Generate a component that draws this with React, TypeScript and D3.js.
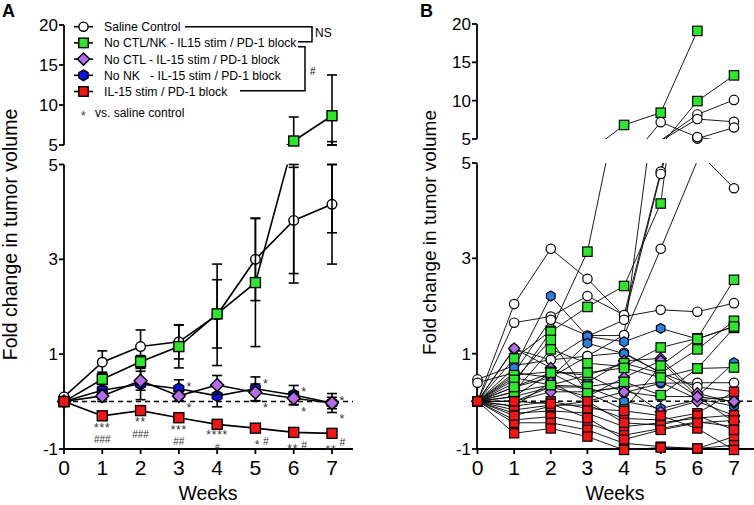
import React from "react";
import * as d3 from "d3";

const FONT = "Arial, 'Liberation Sans', Helvetica, sans-serif";

// ---------- shared ----------
const weeks = [0, 1, 2, 3, 4, 5, 6, 7];
const lowerTicks = [-1, 1, 3, 5];
const upperTicks = [5, 10, 15, 20];
const yTitle = "Fold change in tumor volume";
const xTitle = "Weeks";

// ---------- panel A (mean ± error) ----------
const salineMean = [0.1, 0.83, 1.16, 1.26, 1.83, 3.0, 3.82, 4.16];
const salineErr = [0, 0.24, 0.35, 0.36, 1.07, 0.87, 1.12, 1.26];
const noCtlNkMean = [0, 0.47, 0.84, 1.16, 1.85, 2.51, 5.5, 8.66];
const noCtlNkErr = [0, 0.15, 0.13, 0.45, 0.72, 1.35, 3.0, 5.1];
const noCtlMean = [0, 0.12, 0.44, 0.12, 0.35, 0.19, 0.07, -0.03];
const noCtlErr = [0, 0.12, 0.2, 0.1, 0.2, 0.18, 0.14, 0.12];
const noNkMean = [0, 0.24, 0.37, 0.27, 0.12, 0.27, 0.14, -0.03];
const noNkErr = [0, 0.2, 0.33, 0.19, 0.23, 0.25, 0.2, 0.2];
const il15Mean = [0, -0.3, -0.19, -0.34, -0.48, -0.56, -0.65, -0.67];
const il15Err = [0, 0.03, 0.03, 0.03, 0.06, 0.07, 0.05, 0.07];

const legendLabels = [
  "Saline Control",
  "No CTL/NK - IL15 stim / PD-1 block",
  "No CTL - IL-15 stim / PD-1 block",
  "No NK   - IL-15 stim / PD-1 block",
  "IL-15 stim / PD-1 block",
];
const il15StarsVsSaline = ["***", "**", "***", "****", "*", "**", "**"]; // weeks 1..7
const il15HashVsNoCtlNk = ["###", "###", "##", "#", "#", "#", "#"]; // weeks 1..7
const sideStarWeeks = [3, 5, 6, 7];

// ---------- panel B (individual mice) ----------
const salineMice: (number | null)[][] = [
  [0, 2.04, 3.2, 2.57, 1.78, 1.92, 1.88, 2.06],
  [0, 1.65, 1.78, 2.21, 1.81, 4.82, 8.2, 10.1],
  [0.46, 0.75, 0.87, 1.36, 1.71, 4.77, 7.6, 7.25],
  [0.39, 0.6, 1.71, 1.38, 1.38, 3.2, 5.05, 6.5],
  [0, 0.6, 0.5, 0.95, 1.39, 7.2, 5.25, 4.47],
  [0, 0.5, 0.34, 0.55, 0.18, 0.38, 0.39, 0.39],
  [0, 1.1, 0.87, 0.95, 1.02, 0.6, 0.3, 0.2],
];
const noCtlNkMice: (number | null)[][] = [
  [0, 0.9, 1.48, 3.14, 6.83, 8.43, 19.1, null],
  [0, 0.38, 1.46, 1.98, 2.42, 4.15, 9.95, 13.3],
  [0, 0.2, 1.09, 0.8, 0.73, 1.13, 1.32, 2.55],
  [0, 0.55, 0.62, 0.55, 0.8, 0.59, 1.09, 1.69],
  [0, 0.2, 0.34, 0.31, 0.41, 0.13, 0.69, 1.54],
  [0, 0.45, 1.29, 0.17, -0.17, 0.75, 1.31, 1.57],
  [0, 0.3, 0.6, 0.6, 0.7, 0.5, 0.69, 0.71],
];
const noCtlMice: (number | null)[][] = [
  [0, 1.11, 0.7, 0.4, 0.85, 0.9, 0.17, -0.03],
  [0, 0.1, 0.3, 0.1, 0.5, 0.85, 0.1, -0.43],
  [0, 0.0, 0.2, 0.2, 0.3, -0.22, 0.0, -0.3],
  [0, -0.1, 0.4, 0.0, 0.2, 0.1, 0.1, 0.0],
];
const noNkMice: (number | null)[][] = [
  [0, 0.7, 2.21, 1.36, 1.25, 1.53, 1.31, 1.57],
  [0, 0.3, 0.5, 1.22, 1.0, 0.6, 0.1, 0.81],
  [0, 0.0, 0.3, 0.3, 0.0, -0.15, 0.03, 0.1],
  [0, 0.1, 0.6, 0.2, 0.3, 0.4, 0.05, -0.1],
];
const il15Mice: (number | null)[][] = [
  [0, -0.18, -0.08, -0.08, -0.36, -0.39, -0.25, 0.2],
  [0, -0.25, -0.2, -0.25, -0.53, -0.45, -0.35, -0.29],
  [0, -0.39, -0.32, -0.46, -0.71, -0.57, -0.43, -0.53],
  [0, -0.45, -0.45, -0.6, -0.88, -0.95, -0.99, -0.74],
  [0, -0.67, -0.57, -0.74, -1.02, -0.97, -0.99, -0.92],
  [0, -0.1, 0.0, -0.15, -0.2, -0.3, -0.57, -1.02],
  [0, -0.3, -0.1, 0.0, -0.45, -0.5, -0.3, -0.6],
  [0, 0.0, -0.05, -0.35, -0.8, -0.6, -0.45, -0.4],
];

// ---------- styles ----------
const GREEN = "#2ee62e";
const PURPLE = "#b56ce8";
const BLUE_A = "#0a14e6";
const BLUE_B = "#2d7fe0";
const RED = "#f01616";

type Shape = "circle" | "square" | "diamond" | "hexagon";

function Marker({ shape, x, y, fill, s, sw }: { shape: Shape; x: number; y: number; fill: string; s: number; sw: number }) {
  const common = { fill, stroke: "#000", strokeWidth: sw };
  if (shape === "circle") return <circle cx={x} cy={y} r={s} {...common} />;
  if (shape === "square") return <rect x={x - s} y={y - s} width={2 * s} height={2 * s} {...common} />;
  if (shape === "diamond") {
    const d = s * 1.3;
    return <polygon points={`${x},${y - d} ${x + d},${y} ${x},${y + d} ${x - d},${y}`} {...common} />;
  }
  const r = s * 1.08;
  const pts = d3.range(6).map((k) => {
    const a = (Math.PI / 180) * (-90 + 60 * k);
    return `${x + r * Math.cos(a)},${y + r * Math.sin(a)}`;
  });
  return <polygon points={pts.join(" ")} {...common} />;
}

type Seg = { d: [number, number]; y: d3.ScaleLinear<number, number>; clip: [number, number] };

function segOf(v: number, segs: Seg[]) {
  return v > 5 ? segs[1] : segs[0];
}

function Axes({ x, segs, axisX, xEnd, labelEnd, id }: { x: d3.ScaleLinear<number, number>; segs: Seg[]; axisX: number; xEnd: number; labelEnd: number; id: string }) {
  const lo = segs[0], hi = segs[1];
  const yBase = lo.y(-1);
  return (
    <g>
      <line x1={axisX} x2={axisX} y1={lo.y(5)} y2={yBase} stroke="#000" strokeWidth={1.8} />
      {lowerTicks.map((t) => (
        <g key={`lt${id}${t}`}>
          <line x1={axisX - 5} x2={axisX} y1={lo.y(t)} y2={lo.y(t)} stroke="#000" strokeWidth={1.8} />
          <text x={labelEnd} y={lo.y(t) + 6} textAnchor="end" fontSize={17} fontFamily={FONT}>{t}</text>
        </g>
      ))}
      <line x1={axisX} x2={axisX} y1={hi.y(20)} y2={hi.y(5)} stroke="#000" strokeWidth={1.8} />
      {upperTicks.map((t) => (
        <g key={`ut${id}${t}`}>
          <line x1={axisX - 5} x2={axisX} y1={hi.y(t)} y2={hi.y(t)} stroke="#000" strokeWidth={1.8} />
          <text x={labelEnd} y={hi.y(t) + 6} textAnchor="end" fontSize={17} fontFamily={FONT}>{t}</text>
        </g>
      ))}
      <line x1={axisX} x2={xEnd} y1={yBase} y2={yBase} stroke="#000" strokeWidth={1.8} />
      {weeks.map((w) => (
        <g key={`xt${id}${w}`}>
          <line x1={x(w)} x2={x(w)} y1={yBase} y2={yBase + 5} stroke="#000" strokeWidth={1.8} />
          <text x={x(w)} y={475} textAnchor="middle" fontSize={21} fontFamily={FONT}>{w}</text>
        </g>
      ))}
      <line x1={axisX} x2={xEnd} y1={lo.y(0)} y2={lo.y(0)} stroke="#000" strokeWidth={1.5} strokeDasharray="5,4" />
    </g>
  );
}

// ---------- Panel A ----------
const xA = d3.scaleLinear().domain([0, 7]).range([64, 332]);
const segsA: Seg[] = [
  { d: [-1, 5], y: d3.scaleLinear().domain([-1, 5]).range([449, 164.5]), clip: [164.5, 456] },
  { d: [5, 20], y: d3.scaleLinear().domain([5, 20]).range([145, 25]), clip: [18, 145] },
];

const seriesA = [
  { label: legendLabels[0], mean: salineMean, err: salineErr, shape: "circle" as Shape, fill: "#fff", s: 4.8 },
  { label: legendLabels[3], mean: noNkMean, err: noNkErr, shape: "hexagon" as Shape, fill: BLUE_A, s: 5.2 },
  { label: legendLabels[2], mean: noCtlMean, err: noCtlErr, shape: "diamond" as Shape, fill: PURPLE, s: 5 },
  { label: legendLabels[1], mean: noCtlNkMean, err: noCtlNkErr, shape: "square" as Shape, fill: GREEN, s: 5 },
  { label: legendLabels[4], mean: il15Mean, err: il15Err, shape: "square" as Shape, fill: RED, s: 5 },
];
const legendOrder = [0, 3, 2, 1, 4];

function PanelA() {
  const line = d3.line<number>().x((_, i) => xA(weeks[i]));
  const red = (i: number) => segsA[0].y(il15Mean[i]);
  const ann: JSX.Element[] = [];
  for (let i = 1; i <= 7; i++) {
    const wx = xA(weeks[i]);
    const ry = red(i);
    const st = il15StarsVsSaline[i - 1];
    const hs = il15HashVsNoCtlNk[i - 1];
    if (i <= 4) {
      const sb = i === 4 ? ry + 14.8 : ry + 15.8;
      const hb = i === 4 ? ry + 25.5 : ry + 27.4;
      const hf = i === 4 ? 9 : 10;
      ann.push(<text key={`s${i}`} x={wx} y={sb} textAnchor="middle" fontSize={12} letterSpacing={0.8} fill="#333" fontFamily={FONT}>{st}</text>);
      ann.push(<text key={`h${i}`} x={wx} y={hb} textAnchor="middle" fontSize={hf} fill="#333" fontFamily={FONT}>{hs}</text>);
    } else {
      const sx = i === 5 ? wx + 2 : wx - 1;
      const hy = i === 7 ? ry + 12.5 : ry + 16.5;
      ann.push(<text key={`s${i}`} x={sx} y={ry + 20.5} textAnchor="middle" fontSize={12} letterSpacing={0.8} fill="#333" fontFamily={FONT}>{st}</text>);
      ann.push(<text key={`h${i}`} x={wx + 10.5} y={hy} textAnchor="middle" fontSize={10.5} fill="#333" fontFamily={FONT}>{hs}</text>);
    }
  }
  sideStarWeeks.forEach((w) => {
    const top = Math.max(noNkMean[w] + noNkErr[w], noCtlMean[w] + noCtlErr[w]);
    const bot = Math.min(noNkMean[w] - noNkErr[w], noCtlMean[w] - noCtlErr[w]);
    const wx = xA(w) + 10;
    ann.push(<text key={`ut${w}`} x={wx} y={segsA[0].y(top) + 11} textAnchor="middle" fontSize={12.5} fill="#333" fontFamily={FONT}>*</text>);
    ann.push(<text key={`bt${w}`} x={wx} y={segsA[0].y(bot) + 11} textAnchor="middle" fontSize={12.5} fill="#333" fontFamily={FONT}>*</text>);
  });

  return (
    <g>
      <defs>
        {segsA.map((s, k) => (
          <clipPath id={`clipA${k}`} key={k}>
            <rect x={0} y={s.clip[0]} width={380} height={s.clip[1] - s.clip[0]} />
          </clipPath>
        ))}
      </defs>
      <text x={2} y={17} fontSize={18} fontWeight="bold" fontFamily={FONT}>A</text>
      <Axes x={xA} segs={segsA} axisX={64} xEnd={353} labelEnd={58} id="A" />
      {seriesA.map((s, si) => (
        <g key={si}>
          {s.mean.map((m, i) =>
            segsA.map((seg, k) => {
              const e = s.err[i];
              if (!e) return null;
              const a = Math.max(m - e, seg.d[0]);
              const b = Math.min(m + e, seg.d[1]);
              if (a >= b) return null;
              const x = xA(weeks[i]);
              return (
                <g key={`e${i}-${k}`} stroke="#000" strokeWidth={1.6}>
                  <line x1={x} x2={x} y1={seg.y(a)} y2={seg.y(b)} />
                  <line x1={x - 5} x2={x + 5} y1={seg.y(a)} y2={seg.y(a)} />
                  <line x1={x - 5} x2={x + 5} y1={seg.y(b)} y2={seg.y(b)} />
                </g>
              );
            })
          )}
          {segsA.map((seg, k) => (
            <path key={`l${k}`} d={line.y((d) => seg.y(d))(s.mean) || ""} fill="none" stroke="#000" strokeWidth={1.6} clipPath={`url(#clipA${k})`} />
          ))}
          {s.mean.map((m, i) => (
            <Marker key={`m${i}`} shape={s.shape} x={xA(weeks[i])} y={segOf(m, segsA).y(m)} fill={s.fill} s={s.s} sw={1.4} />
          ))}
        </g>
      ))}
      {ann}
      {legendOrder.map((si, j) => {
        const s = seriesA[si];
        const y = 26.7 + j * 16.2;
        return (
          <g key={`lg${j}`}>
            <line x1={74} x2={93} y1={y} y2={y} stroke="#000" strokeWidth={1.6} />
            <Marker shape={s.shape} x={83.5} y={y} fill={s.fill} s={s.s * 0.95} sw={1.4} />
            <text x={104} y={y + 4.5} fontSize={12.2} fontFamily={FONT} style={{ whiteSpace: "pre" }}>{s.label}</text>
          </g>
        );
      })}
      <path d="M185,26.7 H312 V41.7 H298" fill="none" stroke="#000" strokeWidth={1.5} />
      <path d="M298,46.7 H305 V90.7 H240" fill="none" stroke="#000" strokeWidth={1.5} />
      <text x={315} y={36.5} fontSize={12} fontFamily={FONT}>NS</text>
      <text x={310} y={75} fontSize={10} fontFamily={FONT}>#</text>
      <text x={81} y={119.5} fontSize={12} fontFamily={FONT} fill="#333">*</text>
      <text x={95} y={117} fontSize={12} fontFamily={FONT}>vs. saline control</text>
      <text transform={`translate(17,234.5) rotate(-90)`} textAnchor="middle" fontSize={19.5} fontFamily={FONT}>{yTitle}</text>
      <text x={208} y={500} textAnchor="middle" fontSize={19.5} fontFamily={FONT}>{xTitle}</text>
    </g>
  );
}

// ---------- Panel B ----------
const xB = d3.scaleLinear().domain([0, 7]).range([477.5, 734]);
const segsB: Seg[] = [
  { d: [-1, 5], y: d3.scaleLinear().domain([-1, 5]).range([449, 163]), clip: [163, 456] },
  { d: [5, 20], y: d3.scaleLinear().domain([5, 20]).range([139, 24]), clip: [18, 139] },
];
const groupsB = [
  { mice: salineMice, shape: "circle" as Shape, fill: "#fff", s: 4.7 },
  { mice: noNkMice, shape: "hexagon" as Shape, fill: BLUE_B, s: 4.6 },
  { mice: noCtlMice, shape: "diamond" as Shape, fill: PURPLE, s: 4.3 },
  { mice: noCtlNkMice, shape: "square" as Shape, fill: GREEN, s: 4.7 },
  { mice: il15Mice, shape: "square" as Shape, fill: RED, s: 4.6 },
];

function PanelB() {
  const line = d3
    .line<number | null>()
    .defined((d) => d != null)
    .x((_, i) => xB(weeks[i]));
  return (
    <g>
      <defs>
        {segsB.map((s, k) => (
          <clipPath id={`clipB${k}`} key={k}>
            <rect x={380} y={s.clip[0]} width={374} height={s.clip[1] - s.clip[0]} />
          </clipPath>
        ))}
      </defs>
      <text x={420} y={17} fontSize={18} fontWeight="bold" fontFamily={FONT}>B</text>
      <Axes x={xB} segs={segsB} axisX={477} xEnd={754} labelEnd={471} id="B" />
      {groupsB.map((g, gi) =>
        g.mice.map((m, mi) =>
          segsB.map((seg, k) => (
            <path key={`l${gi}-${mi}-${k}`} d={line.y((d) => seg.y(d as number))(m) || ""} fill="none" stroke="#000" strokeWidth={0.9} clipPath={`url(#clipB${k})`} />
          ))
        )
      )}
      {groupsB.map((g, gi) =>
        g.mice.map((m, mi) =>
          m.map((v, i) =>
            v == null ? null : (
              <Marker key={`m${gi}-${mi}-${i}`} shape={g.shape} x={xB(weeks[i])} y={segOf(v, segsB).y(v)} fill={g.fill} s={g.s} sw={1.2} />
            )
          )
        )
      )}
      <text transform={`translate(436,232.5) rotate(-90)`} textAnchor="middle" fontSize={19} fontFamily={FONT}>{yTitle}</text>
      <text x={615} y={500} textAnchor="middle" fontSize={19.5} fontFamily={FONT}>{xTitle}</text>
    </g>
  );
}

export default function App() {
  return (
    <svg width={754} height={505} viewBox="0 0 754 505" style={{ display: "block", position: "absolute", left: 0, top: 0, background: "#fff" }}>
      <rect x={0} y={0} width={754} height={505} fill="#fff" />
      <PanelA />
      <PanelB />
    </svg>
  );
}
